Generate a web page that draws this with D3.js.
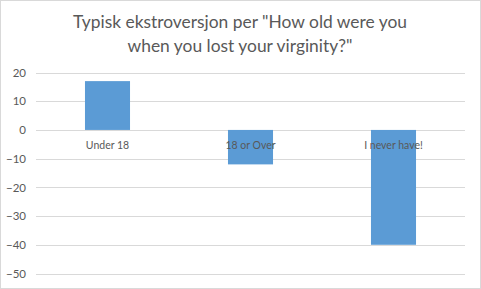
<!DOCTYPE html>
<html lang='en'>
<head>
    <meta charset='UTF-8'>
    <title></title>
    <script src="https://cdn.jsdelivr.net/npm/d3@7"></script>
    <style>
        body { margin: 0; background: #fff; }
        svg { display: block; font-family: Lato, "Open Sans", sans-serif; }
    </style>
</head>
<body>
    <svg class="bar-svg"></svg>
</body>
<script>
    // data
    const categories = ['Under 18', '18 or Over', 'I never have!'];
    const values = [17, -12, -40];
    const yTicks = [20, 10, 0, -10, -20, -30, -40, -50];
    const titleLines = ['Typisk ekstroversjon per "How old were you', 'when you lost your virginity?"'];

    const width = 481,
          height = 289,
          margin = {top: 72.5, right: 16, bottom: 15.5, left: 36};

    const svg = d3.select('.bar-svg')
                  .attr('width', width)
                  .attr('height', height);

    // chart border
    svg.append('rect')
       .attr('x', 0.5).attr('y', 0.5)
       .attr('width', width - 1).attr('height', height - 1)
       .attr('fill', '#fff')
       .attr('stroke', '#d9d9d9');

    // title
    svg.append('text')
       .attr('text-anchor', 'middle')
       .attr('fill', '#595959')
       .style('font-size', '17.4px')
       .selectAll('tspan')
       .data(titleLines)
       .enter()
       .append('tspan')
       .attr('x', width / 2 - 0.5)
       .attr('y', (d, i) => 28 + i * 24)
       .text(d => d);

    const x = d3.scaleBand()
                .domain(categories)
                .range([margin.left, width - margin.right])
                .paddingInner(0.685)
                .paddingOuter(0.3425);

    const y = d3.scaleLinear()
                .domain([20, -50])
                .range([margin.top, height - margin.bottom]);

    // gridlines
    svg.append('g')
       .selectAll('line')
       .data(yTicks)
       .enter()
       .append('line')
       .attr('x1', margin.left)
       .attr('x2', width - margin.right)
       .attr('y1', d => Math.round(y(d)) + 0.5)
       .attr('y2', d => Math.round(y(d)) + 0.5)
       .attr('stroke', '#d9d9d9');

    // y axis labels
    const yAxis = svg.append('g')
                     .attr('transform', `translate(${margin.left}, 0)`)
                     .call(d3.axisLeft(y).tickValues(yTicks).tickSize(0).tickPadding(10));
    yAxis.select('.domain').remove();
    yAxis.selectAll('text')
         .attr('fill', '#595959')
         .style('font-family', 'Lato, sans-serif')
         .style('font-size', '11.5px');

    // bars
    svg.append('g')
       .selectAll('rect')
       .data(values)
       .enter()
       .append('rect')
       .attr('x', (d, i) => x(categories[i]))
       .attr('width', x.bandwidth())
       .attr('y', d => y(Math.max(0, d)))
       .attr('height', d => Math.abs(y(d) - y(0)))
       .attr('fill', '#5b9bd5');

    // category labels, next to the zero line
    svg.append('g')
       .selectAll('text')
       .data(categories)
       .enter()
       .append('text')
       .attr('x', d => x(d) + x.bandwidth() / 2)
       .attr('y', y(0) + 19)
       .attr('text-anchor', 'middle')
       .attr('fill', '#595959')
       .style('font-size', '10.5px')
       .text(d => d);
</script>
</html>
